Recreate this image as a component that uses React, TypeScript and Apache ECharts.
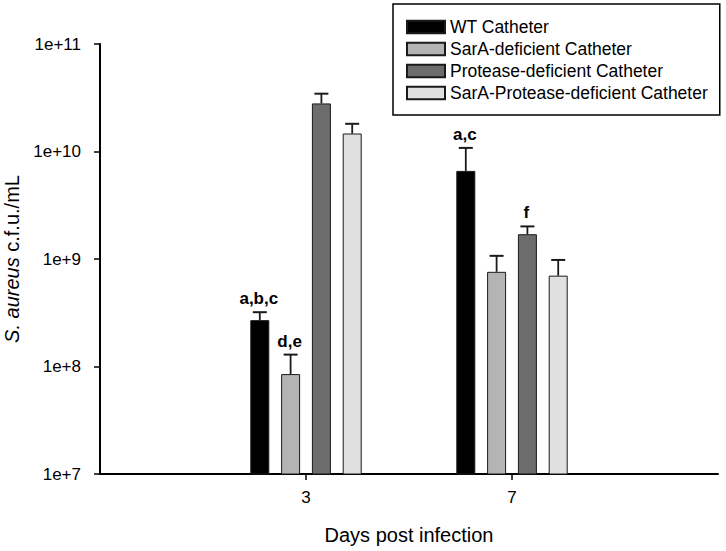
import React, { useEffect, useRef } from "react";
import * as echarts from "echarts";

const categories = ["", "3", "7", ""];
const seriesNames = [
  "WT Catheter",
  "SarA-deficient Catheter",
  "Protease-deficient Catheter",
  "SarA-Protease-deficient Catheter",
];
const seriesColors = ["#000000", "#b4b4b4", "#6c6c6c", "#e0e0e0"];
// values at day 3 and day 7
const wtValues = [2.7e8, 6.6e9];
const sarAValues = [8.5e7, 7.6e8];
const proteaseValues = [2.8e10, 1.7e9];
const sarAProteaseValues = [1.47e10, 7.0e8];
// error bar tops
const wtErrors = [3.2e8, 1.08e10];
const sarAErrors = [1.29e8, 1.07e9];
const proteaseErrors = [3.45e10, 2.01e9];
const sarAProteaseErrors = [1.81e10, 9.8e8];
// significance letters
const wtLetters = ["a,b,c", "a,c"];
const sarALetters = ["d,e", ""];
const proteaseLetters = ["", "f"];
const sarAProteaseLetters = ["", ""];

const yTickLabels = ["1e+7", "1e+8", "1e+9", "1e+10", "1e+11"];

const FONT = "'Liberation Sans', Arial, sans-serif";
const BAR_WIDTH = 19;
const BAR_STEP = 30.8;

export default function App() {
  const ref = useRef<HTMLDivElement>(null);
  useEffect(() => {
    if (!ref.current) return;
    const chart = echarts.init(ref.current, null, { renderer: "svg" });
    const allValues = [wtValues, sarAValues, proteaseValues, sarAProteaseValues];
    const allErrors = [wtErrors, sarAErrors, proteaseErrors, sarAProteaseErrors];
    const allLetters = [wtLetters, sarALetters, proteaseLetters, sarAProteaseLetters];

    const barSeries = seriesNames.map((name, s) => ({
      type: "bar",
      name,
      barWidth: BAR_WIDTH,
      barGap: ((BAR_STEP - BAR_WIDTH) / BAR_WIDTH) * 100 + "%",
      data: ["-", allValues[s][0], allValues[s][1], "-"],
      itemStyle: {
        color: seriesColors[s],
        borderColor: "#1a1a1a",
        borderWidth: 1,
      },
    }));

    const errData: any[] = [];
    for (let s = 0; s < 4; s++) {
      for (let d = 0; d < 2; d++) {
        errData.push([d + 1, s, allValues[s][d], allErrors[s][d], allLetters[s][d]]);
      }
    }

    const errSeries = {
      type: "custom",
      name: "errors",
      z: 10,
      silent: true,
      data: errData,
      encode: { x: 0, y: 2 },
      renderItem: (params: any, api: any) => {
        const ci = api.value(0);
        const s = api.value(1);
        const base = api.coord([ci, api.value(2)]);
        const top = api.coord([ci, api.value(3)]);
        const x = base[0] + (s - 1.5) * BAR_STEP;
        const letter = errData[params.dataIndex][4];
        const children: any[] = [
          {
            type: "line",
            shape: { x1: x, y1: base[1], x2: x, y2: top[1] },
            style: { stroke: "#1a1a1a", lineWidth: 1.8 },
          },
          {
            type: "line",
            shape: { x1: x - 7, y1: top[1], x2: x + 7, y2: top[1] },
            style: { stroke: "#1a1a1a", lineWidth: 2 },
          },
        ];
        if (letter) {
          children.push({
            type: "text",
            x: x - 1,
            y: top[1] - 5,
            style: {
              text: letter,
              fill: "#000",
              font: "bold 17px " + FONT,
              textAlign: "center",
              textVerticalAlign: "bottom",
            },
          });
        }
        return { type: "group", children };
      },
    };

    chart.setOption({
      animation: false,
      backgroundColor: "#ffffff",
      textStyle: { fontFamily: FONT },
      grid: {
        left: 100,
        right: 8,
        top: 44,
        bottom: 77,
        containLabel: false,
        outerBoundsMode: "none",
      },
      legend: {
        data: seriesNames,
        orient: "vertical",
        left: 393,
        top: 4,
        itemWidth: 38,
        itemHeight: 12.5,
        itemGap: 4,
        padding: [14, 12, 13, 13],
        borderColor: "#000",
        borderWidth: 1.5,
        icon: "rect",
        textStyle: { fontSize: 17.5, color: "#000", fontFamily: FONT },
      },
      xAxis: {
        type: "category",
        data: categories,
        boundaryGap: false,
        name: "Days post infection",
        nameLocation: "middle",
        nameGap: 51,
        nameTextStyle: { fontSize: 20, color: "#000", fontFamily: FONT },
        axisLine: { lineStyle: { color: "#000", width: 2 } },
        axisTick: {
          length: 6,
          lineStyle: { color: "#000", width: 1.5 },
          interval: (idx: number, val: string) => val !== "",
        },
        axisLabel: {
          fontSize: 17,
          color: "#000",
          margin: 15,
          interval: 0,
          fontFamily: FONT,
        },
        splitLine: { show: false },
      },
      yAxis: {
        type: "log",
        logBase: 10,
        min: 1e7,
        max: 1e11,
        name: "{i|S. aureus} c.f.u./mL",
        nameLocation: "middle",
        nameGap: 78,
        nameTextStyle: {
          fontSize: 20,
          color: "#000",
          fontFamily: FONT,
          rich: {
            i: { fontSize: 20, fontStyle: "italic", color: "#000", fontFamily: FONT },
          },
        },
        axisLine: { show: true, lineStyle: { color: "#000", width: 2 } },
        axisTick: { show: true, length: 6, lineStyle: { color: "#000", width: 1.5 } },
        axisLabel: {
          fontSize: 17,
          color: "#000",
          margin: 19,
          fontFamily: FONT,
          formatter: (v: number) => {
            const idx = Math.round(Math.log10(v)) - 7;
            return yTickLabels[idx] ?? "";
          },
        },
        splitLine: { show: false },
      },
      series: [...barSeries, errSeries],
    });
    return () => chart.dispose();
  }, []);
  return (
    <div
      ref={ref}
      style={{ position: "fixed", left: 0, top: 0, width: 726, height: 551, background: "#fff" }}
    />
  );
}
